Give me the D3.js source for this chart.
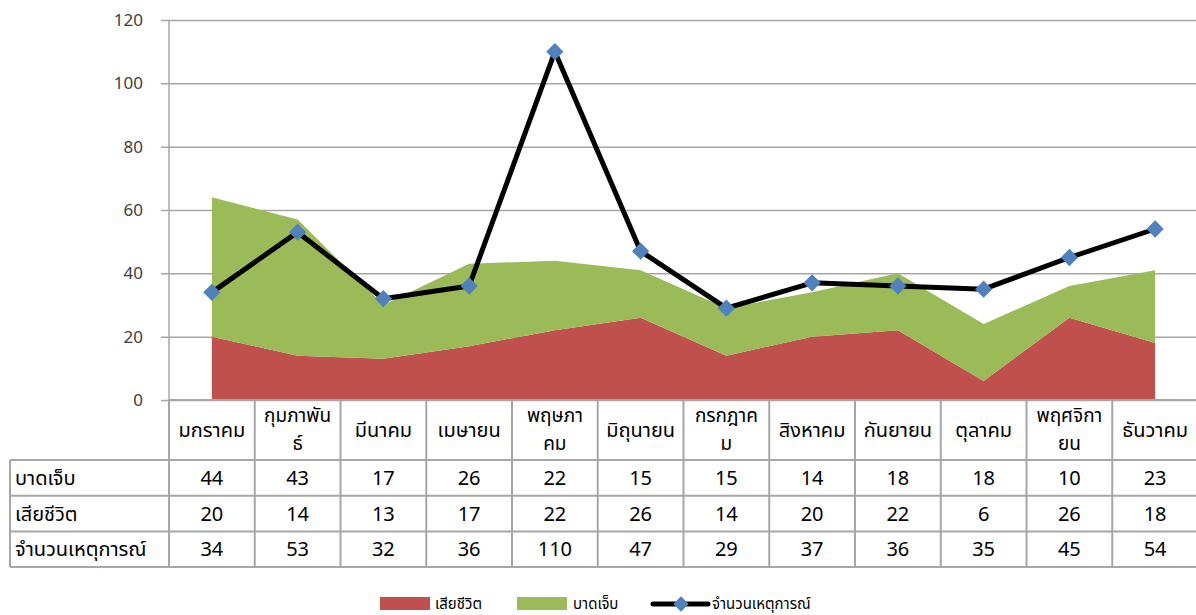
<!DOCTYPE html>
<html>
<head>
<meta charset="utf-8">
<script src="https://cdn.jsdelivr.net/npm/d3@7"></script>
<style>
  body { margin: 0; background: #fff; }
  svg { font-family: "Noto Sans Thai", "Tahoma", "Noto Sans", "DejaVu Sans", sans-serif; }
</style>
</head>
<body>
<svg class="chart"></svg>
<script>
// month headers (line breaks as in the original table)
const months = ["มกราคม", "กุมภาพัน\nธ์", "มีนาคม", "เมษายน", "พฤษภา\nคม", "มิถุนายน",
  "กรกฎาค\nม", "สิงหาคม", "กันยายน", "ตุลาคม", "พฤศจิกา\nยน", "ธันวาคม"];
const injured = [44, 43, 17, 26, 22, 15, 15, 14, 18, 18, 10, 23];
const deaths = [20, 14, 13, 17, 22, 26, 14, 20, 22, 6, 26, 18];
const incidents = [34, 53, 32, 36, 110, 47, 29, 37, 36, 35, 45, 54];
const yTicks = [0, 20, 40, 60, 80, 100, 120];
const seriesNames = ["บาดเจ็บ", "เสียชีวิต", "จำนวนเหตุการณ์"];

const totalWidth = 1196, totalHeight = 615;
const plotLeft = 169, plotRight = 1198, plotTop = 20, plotBottom = 400;
const gridColor = "#a6a6a6";
const red = "#c0504d", green = "#9bbb59", blue = "#4f81bd";

const svg = d3.select(".chart")
  .attr("width", totalWidth)
  .attr("height", totalHeight);

const x = d3.scaleBand()
  .domain(d3.range(months.length))
  .range([plotLeft, plotRight]);
const xc = i => x(i) + x.bandwidth() / 2;

const y = d3.scaleLinear()
  .domain([0, 120])
  .range([plotBottom, plotTop]);

// gridlines + ticks
const yAxis = d3.axisLeft(y)
  .tickValues(yTicks)
  .tickSize(-(plotRight - plotLeft))
  .tickPadding(26);
const gy = svg.append("g")
  .attr("transform", "translate(" + plotLeft + ",0)")
  .call(yAxis);
gy.select(".domain").remove();
gy.selectAll(".tick line")
  .attr("x1", -8)
  .attr("stroke", gridColor)
  .attr("stroke-width", 1.5);
gy.selectAll(".tick text")
  .attr("fill", "#404040")
  .style("font-size", "17px")
  .style("font-family", "'Noto Sans', 'DejaVu Sans', sans-serif");

// stacked areas
const stackData = months.map((m, i) => ({ i: i, deaths: deaths[i], injured: injured[i] }));
const stacked = d3.stack().keys(["deaths", "injured"])(stackData);
const area = d3.area()
  .x(d => xc(d.data.i))
  .y0(d => y(d[0]))
  .y1(d => y(d[1]));
svg.append("g").selectAll("path")
  .data(stacked)
  .enter()
  .append("path")
  .attr("d", area)
  .attr("fill", (d, i) => i == 0 ? red : green);

// incidents line
const line = d3.line()
  .x((d, i) => xc(i))
  .y(d => y(d));
svg.append("path")
  .datum(incidents)
  .attr("d", line)
  .attr("fill", "none")
  .attr("stroke", "#000")
  .attr("stroke-width", 5)
  .attr("stroke-linejoin", "round");

const diamond = d3.symbol().type(d3.symbolDiamond2).size(190);
svg.append("g").selectAll("path")
  .data(incidents)
  .enter()
  .append("path")
  .attr("d", diamond)
  .attr("transform", (d, i) => "translate(" + xc(i) + "," + y(d) + ")")
  .attr("fill", blue);

// y-axis line
svg.append("line")
  .attr("x1", plotLeft).attr("x2", plotLeft)
  .attr("y1", plotTop).attr("y2", plotBottom)
  .attr("stroke", gridColor)
  .attr("stroke-width", 1.5);

// data table
const tableLeft = 10, headerBottom = 460, rowH = 35.7;
const rows = [injured, deaths, incidents];
const table = svg.append("g").style("font-size", "20px").attr("fill", "#000");
const border = (x1, y1, x2, y2) => table.append("line")
  .attr("x1", x1).attr("y1", y1).attr("x2", x2).attr("y2", y2)
  .attr("stroke", gridColor).attr("stroke-width", 2);

border(plotLeft, plotBottom, plotRight, plotBottom);
months.forEach((m, i) => border(x(i) + x.bandwidth(), plotBottom, x(i) + x.bandwidth(), headerBottom + rowH * 3));
border(plotLeft, plotBottom, plotLeft, headerBottom + rowH * 3);
border(tableLeft, headerBottom, tableLeft, headerBottom + rowH * 3);
for (let r = 0; r <= 3; r++) border(tableLeft, headerBottom + rowH * r, plotRight, headerBottom + rowH * r);

// header labels, one text per line
months.forEach((m, i) => {
  const lines = m.split("\n");
  lines.forEach((l, k) => {
    table.append("text")
      .attr("text-anchor", "middle")
      .attr("x", xc(i))
      .attr("y", lines.length == 1 ? 437 : 422 + k * 28)
      .style("font-size", lines.length == 1 ? "20px" : "19px")
      .text(l);
  });
});

// row labels and values
rows.forEach((vals, r) => {
  const cy = headerBottom + rowH * r + rowH / 2 + 7;
  table.append("text")
    .attr("x", tableLeft + 5)
    .attr("y", cy)
    .text(seriesNames[r]);
  table.selectAll(null)
    .data(vals)
    .enter()
    .append("text")
    .attr("x", (d, i) => xc(i))
    .attr("y", cy)
    .attr("text-anchor", "middle")
    .text(d => d);
});

// legend
const legend = svg.append("g").style("font-size", "15px").attr("fill", "#000");
legend.append("rect").attr("x", 380).attr("y", 597).attr("width", 50).attr("height", 13).attr("fill", red);
legend.append("text").attr("x", 435).attr("y", 609).text(seriesNames[1]);
legend.append("rect").attr("x", 517).attr("y", 597).attr("width", 50).attr("height", 13).attr("fill", green);
legend.append("text").attr("x", 573).attr("y", 609).text(seriesNames[0]);
legend.append("line").attr("x1", 653).attr("x2", 708).attr("y1", 604).attr("y2", 604)
  .attr("stroke", "#000").attr("stroke-width", 5).attr("stroke-linecap", "round");
legend.append("path").attr("d", d3.symbol().type(d3.symbolDiamond2).size(150))
  .attr("transform", "translate(681,604)").attr("fill", blue);
legend.append("text").attr("x", 712).attr("y", 609).text(seriesNames[2]);
</script>
</body>
</html>
